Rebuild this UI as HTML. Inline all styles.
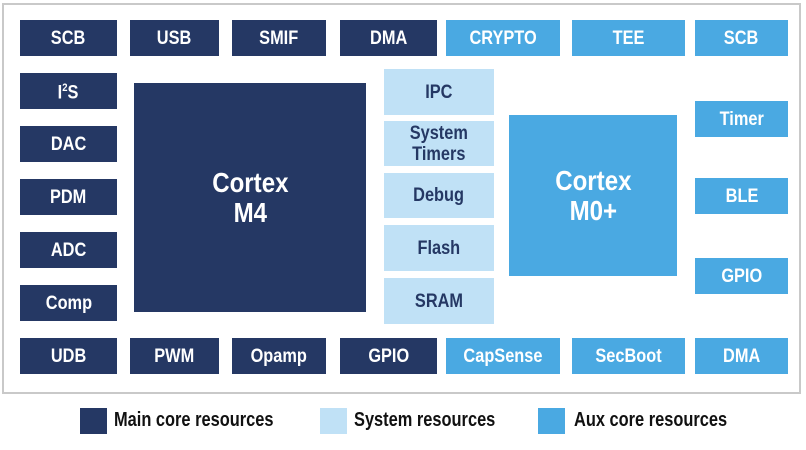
<!DOCTYPE html>
<html><head><style>
body{margin:0;width:806px;height:450px;background:#fff;position:relative;overflow:hidden;font-family:"Liberation Sans",sans-serif;}
.b{position:absolute;display:flex;align-items:center;justify-content:center;text-align:center;font-weight:bold;font-size:19px;line-height:21px;}
.b span{display:inline-block;transform:scaleX(0.86);white-space:nowrap;}
.d{background:#253864;color:#fff;}
.l{background:#c0e1f6;color:#253864;}
.a{background:#4aa9e2;color:#fff;}
.frame{position:absolute;left:2px;top:3px;width:795px;height:387px;border:2px solid #c9c9c9;}
.lg{position:absolute;top:408px;width:27px;height:26px;}
.lt{position:absolute;top:409px;font-size:20px;font-weight:bold;color:#111;transform-origin:left;transform:scaleX(0.82);white-space:nowrap;}
</style></head><body>
<div class="frame"></div>
<div class="b d" style="left:20px;top:20px;width:97px;height:36px"><span>SCB</span></div>
<div class="b d" style="left:130px;top:20px;width:89px;height:36px"><span>USB</span></div>
<div class="b d" style="left:232px;top:20px;width:94px;height:36px"><span>SMIF</span></div>
<div class="b d" style="left:340px;top:20px;width:97px;height:36px"><span>DMA</span></div>
<div class="b a" style="left:446px;top:20px;width:114px;height:36px"><span>CRYPTO</span></div>
<div class="b a" style="left:572px;top:20px;width:113px;height:36px"><span>TEE</span></div>
<div class="b a" style="left:695px;top:20px;width:93px;height:36px"><span>SCB</span></div>

<div class="b d" style="left:20px;top:338px;width:97px;height:36px"><span>UDB</span></div>
<div class="b d" style="left:130px;top:338px;width:89px;height:36px"><span>PWM</span></div>
<div class="b d" style="left:232px;top:338px;width:94px;height:36px"><span>Opamp</span></div>
<div class="b d" style="left:340px;top:338px;width:97px;height:36px"><span>GPIO</span></div>
<div class="b a" style="left:446px;top:338px;width:114px;height:36px"><span>CapSense</span></div>
<div class="b a" style="left:572px;top:338px;width:113px;height:36px"><span>SecBoot</span></div>
<div class="b a" style="left:695px;top:338px;width:93px;height:36px"><span>DMA</span></div>

<div class="b d" style="left:20px;top:73px;width:97px;height:36px"><span>I<sup style="font-size:11px">2</sup>S</span></div>
<div class="b d" style="left:20px;top:126px;width:97px;height:36px"><span>DAC</span></div>
<div class="b d" style="left:20px;top:179px;width:97px;height:36px"><span>PDM</span></div>
<div class="b d" style="left:20px;top:232px;width:97px;height:36px"><span>ADC</span></div>
<div class="b d" style="left:20px;top:285px;width:97px;height:36px"><span>Comp</span></div>

<div class="b d" style="left:134px;top:83px;width:232px;height:229px;font-size:28px;line-height:30px"><span>Cortex<br>M4</span></div>

<div class="b l" style="left:384px;top:69px;width:110px;height:46px"><span>IPC</span></div>
<div class="b l" style="left:384px;top:121px;width:110px;height:45px"><span>System<br>Timers</span></div>
<div class="b l" style="left:384px;top:173px;width:110px;height:45px"><span>Debug</span></div>
<div class="b l" style="left:384px;top:225px;width:110px;height:46px"><span>Flash</span></div>
<div class="b l" style="left:384px;top:278px;width:110px;height:46px"><span>SRAM</span></div>

<div class="b a" style="left:509px;top:115px;width:168px;height:161px;font-size:28px;line-height:30px"><span>Cortex<br>M0+</span></div>

<div class="b a" style="left:695px;top:101px;width:93px;height:36px"><span>Timer</span></div>
<div class="b a" style="left:695px;top:178px;width:93px;height:36px"><span>BLE</span></div>
<div class="b a" style="left:695px;top:258px;width:93px;height:36px"><span>GPIO</span></div>

<div class="lg" style="left:80px;background:#253864"></div>
<div class="lt" style="left:114px">Main core resources</div>
<div class="lg" style="left:320px;background:#c0e1f6"></div>
<div class="lt" style="left:354px">System resources</div>
<div class="lg" style="left:538px;background:#4aa9e2"></div>
<div class="lt" style="left:574px">Aux core resources</div>
</body></html>
